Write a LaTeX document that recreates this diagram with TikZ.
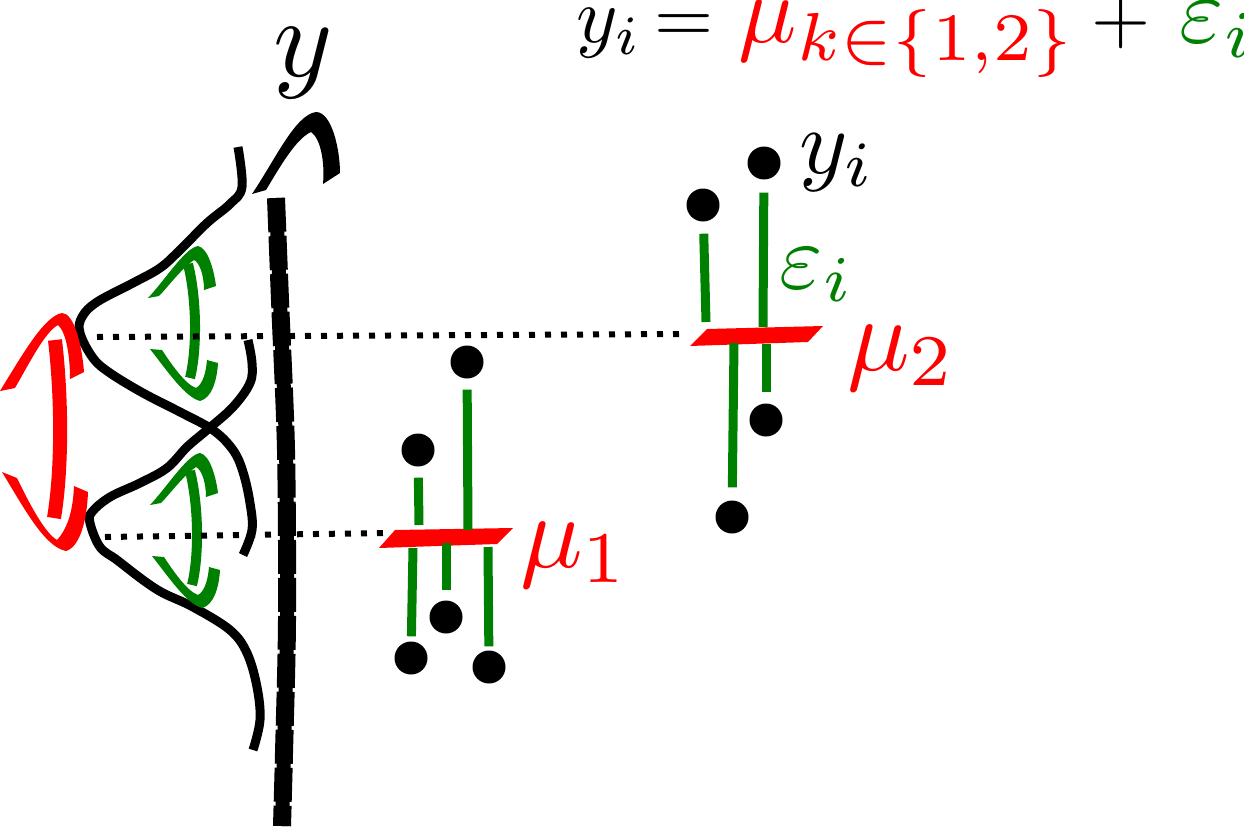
\documentclass[tikz,border=0pt]{standalone}
\usetikzlibrary{calc}
\definecolor{gr}{RGB}{0,128,0}
\tikzset{
  curve/.style={line width=9pt, black},
  eps/.style={line width=9pt, gr},
  guide/.style={line width=6pt, dash pattern=on 6pt off 10pt},
  dot/.style={circle, fill=black, minimum size=33pt, inner sep=0pt},
  bar/.style={fill=red},
  lbl/.style={inner sep=0pt, anchor=base west},
}
\begin{document}
\begin{tikzpicture}[x=1pt,y=-1pt]
\useasboundingbox (0,0) rectangle (1244,832);

% axis
\def\axispath{plot[smooth] coordinates {(276,198) (280,300) (286,450) (287,620) (284,753) (282,826)}}
\draw[line width=14pt] \axispath;
\draw[line width=18pt, dash pattern=on 34pt off 4pt] \axispath;
\fill (252,194) .. controls (275,160) and (295,115) .. (316,112) .. controls (332,112) and (340,150) .. (340,173) -- (323,184) .. controls (325,160) and (320,138) .. (311,132) .. controls (296,139) and (281,165) .. (266,190) -- cycle;
\node[lbl, scale=11.3] (ylab) at (271,77) {$y$};

% density curves
\draw[curve] plot[smooth, tension=0.6] coordinates {(238,147) (242,187) (230,204) (207,223) (180,250) (160,268) (133,283) (97,302) (82,317) (80,333) (93,358) (110,373) (143,393) (180,412) (213,430) (233,450) (243,472) (250,503) (252,530) (243,555)};
\draw[curve] plot[smooth, tension=0.6] coordinates {(248,340) (252,363) (250,383) (233,407) (207,430) (187,447) (167,468) (140,483) (110,497) (92,512) (90,523) (100,547) (117,560) (143,580) (163,593) (193,607) (230,630) (247,653) (257,687) (260,720) (253,750)};

% red double arrow
\fill[red] (0,391) .. controls (25,350) and (45,316) .. (62,313) .. controls (74,313) and (82,345) .. (84,372) -- (70,379) .. controls (70,355) and (66,332) .. (58,325) .. controls (45,332) and (30,362) .. (15,388) -- cycle;
\draw[red, line width=14pt] (55,340) .. controls (62,400) and (62,470) .. (54,518);
\fill[red] (2,472) -- (17,478) .. controls (30,505) and (45,533) .. (57,540) .. controls (68,528) and (73,510) .. (74,486) -- (88,492) .. controls (87,520) and (80,547) .. (66,551) .. controls (45,547) and (25,510) .. (2,472) -- cycle;

% green double arrows
\foreach \dx/\dy in {0/0, 2/207}{
\begin{scope}[shift={(\dx,\dy)}]
\fill[gr] (148,298) .. controls (165,280) and (185,248) .. (198,246) .. controls (208,248) and (214,270) .. (216,286) -- (204,290) .. controls (204,276) and (200,263) .. (194,260) .. controls (180,270) and (168,287) .. (159,296) -- cycle;
\draw[gr, line width=10pt] (188,264) .. controls (197,300) and (197,350) .. (190,378);
\fill[gr] (150,349) -- (162,350) .. controls (172,365) and (185,384) .. (196,388) .. controls (203,384) and (206,372) .. (207,360) -- (218,363) .. controls (217,380) and (212,398) .. (200,401) .. controls (185,397) and (168,372) .. (150,349) -- cycle;
\end{scope}}

% guides
\coordinate (g1a) at (97,337);
\coordinate (g1b) at (682,334);
\coordinate (g2a) at (105,537);
\coordinate (g2b) at (386,533);
\draw[guide] (g1a) -- (g1b);
\draw[guide] (g2a) -- (g2b);

% cluster 1
\fill[bar] (379,548) -- (497,544) -- (513,528) -- (395,530) -- cycle;
\node[dot] (d1) at (467,362) {};
\node[dot] (d2) at (418,450) {};
\node[dot] (d3) at (446,617) {};
\node[dot] (d4) at (411,658) {};
\node[dot] (d5) at (489,667) {};
\coordinate (c1) at (468,530);
\coordinate (c2) at (419,525);
\coordinate (c3) at (446,543);
\coordinate (c4) at (413,548);
\coordinate (c5) at (488,547);
\draw[eps, shorten <=11pt] (d1) -- (c1);
\draw[eps, shorten <=11pt] (d2) -- (c2);
\draw[eps, shorten >=10pt] (c3) -- (d3);
\draw[eps, shorten >=5pt] (c4) -- (d4);
\draw[eps, shorten >=4pt] (c5) -- (d5);
\node[lbl, text=red, scale=10.4] (mu1) at (518,567) {$\mu_1$};

% cluster 2
\fill[bar] (690,346) -- (808,342) -- (823,326) -- (707,329) -- cycle;
\node[dot] (e1) at (764,163) {};
\node[dot] (e2) at (703,205) {};
\node[dot] (e3) at (766,420) {};
\node[dot] (e4) at (732,517) {};
\coordinate (f1) at (763,327);
\coordinate (f2) at (706,322);
\coordinate (f3) at (766,344);
\coordinate (f4) at (734,343);
\draw[eps, shorten <=13pt] (e1) -- (f1);
\draw[eps, shorten <=12pt] (e2) -- (f2);
\draw[eps, shorten >=11pt] (f3) -- (e3);
\draw[eps, shorten >=13pt] (f4) -- (e4);
\node[lbl, text=red, scale=10.4] (mu2) at (845,370) {$\mu_2$};
\node[lbl, text=gr, scale=9.3] (epsl) at (778,288) {$\varepsilon_i$};
\node[lbl, scale=9.2] (yil) at (798,173) {$y_i$};

% equation
\node[lbl, scale=7.9] (eqy) at (575,43) {$y_i$};
\node[lbl, scale=7.6] (eqeq) at (653,43) {$=$};
\node[lbl, text=red, scale=9.7] (eqmu) at (737,43) {$\mu_{k\in\{1,2\}}$};
\node[lbl, scale=7.6] (eqplus) at (1090,43) {$+$};
\node[lbl, text=gr, scale=9.5] (eqeps) at (1178,43) {$\varepsilon_i$};
\end{tikzpicture}
\end{document}
